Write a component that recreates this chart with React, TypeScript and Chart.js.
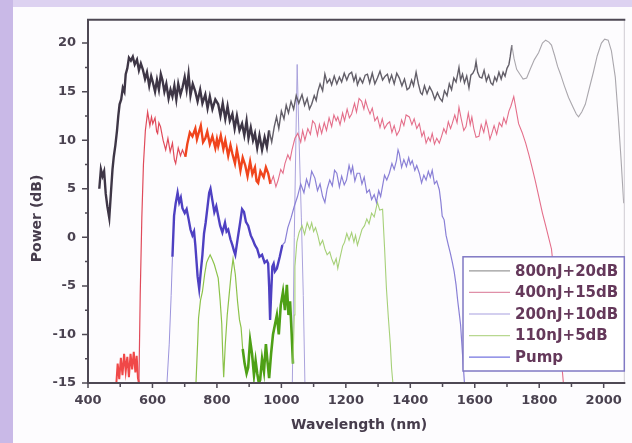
import React, { useEffect, useRef } from 'react';
import { Chart, registerables } from 'chart.js';

Chart.register(...registerables);

// ---- data (wavelength nm, power dB) ----
const seriesLabels = ['800nJ+20dB', '400nJ+15dB', '200nJ+10dB', '110nJ+5dB', 'Pump'];

const s800: [number, number][] = [
  [435, 5], [440, 7], [445, 6.3], [450, 6.8], [455, 4.5], [460, 3.2], [466, 2], [471, 4.5], [476, 7], [480, 8.3],
  [485, 9.5], [490, 11], [494, 12.5], [498, 13.7], [503, 14.2], [508, 15.4], [513, 15], [517, 16.8], [522, 17.4], [527, 18.5],
  [533, 18.2], [539, 18.6], [545, 17.8], [552, 18.3], [558, 17.2], [564, 17.9], [570, 17.3], [577, 16.3], [583, 17], [590, 15.6],
  [596, 16.6], [601, 16], [608, 15], [614, 16.2], [620, 15.2], [626, 16.8], [631, 16.2], [637, 15], [643, 15.8], [650, 14.3],
  [656, 15.2], [662, 14.5], [668, 15.6], [674, 14.2], [680, 15.8], [687, 14.7], [693, 15.4], [700, 16.5], [706, 15.2], [712, 16.8],
  [718, 14.6], [725, 15.8], [733, 15], [740, 14], [748, 15.2], [755, 13.8], [764, 14.7], [771, 13.3], [778, 14.5], [786, 13.2],
  [795, 14.2], [804, 13.7], [811, 12.5], [818, 13.8], [826, 12.2], [833, 13.5], [840, 12], [848, 12.7], [855, 11.2], [862, 12.5],
  [870, 11], [878, 11.7], [885, 10.5], [892, 12], [898, 10.2], [905, 11.3], [912, 10], [918, 10.7], [925, 9.2], [932, 10.5],
  [940, 9], [948, 10.3], [955, 9.3], [962, 11], [970, 9.8], [978, 11.4], [985, 12.4], [992, 11.2], [1000, 13], [1008, 12.2],
  [1015, 13.6], [1022, 12.8], [1030, 14], [1038, 13.2], [1046, 14.6], [1054, 13.8], [1064, 14.7], [1072, 13.6], [1080, 14.3], [1087, 13.2],
  [1094, 13.7], [1102, 14.6], [1108, 14.1], [1113, 15], [1120, 15.8], [1128, 15.1], [1135, 16.8], [1142, 15.9], [1150, 16.3], [1156, 15.7],
  [1164, 16.6], [1172, 15.8], [1180, 16.5], [1187, 16], [1195, 16.9], [1203, 16.2], [1210, 16.8], [1218, 17], [1225, 16.1], [1231, 16.7],
  [1236, 15.7], [1244, 16.4], [1252, 15.9], [1260, 16.7], [1267, 16.8], [1274, 15.9], [1282, 16.9], [1290, 15.8], [1298, 16.4], [1306, 17.1],
  [1314, 16.2], [1322, 16.6], [1329, 16.8], [1335, 16], [1342, 16.7], [1350, 15.8], [1358, 16.9], [1366, 16.4], [1374, 15.6], [1382, 16.3],
  [1390, 15.2], [1397, 15.4], [1404, 16.2], [1410, 15.6], [1418, 17], [1425, 15.8], [1432, 14.9], [1437, 14.7], [1444, 15.6], [1452, 14.8],
  [1460, 15.5], [1468, 15], [1476, 14.2], [1484, 14.9], [1492, 14.3], [1499, 14], [1506, 15.1], [1514, 14.6], [1521, 15.8], [1528, 15.2],
  [1535, 16.4], [1542, 16], [1547, 16.8], [1551, 17.5], [1556, 16.2], [1562, 16.8], [1568, 15.9], [1575, 16.6], [1582, 15.4], [1588, 16.7],
  [1594, 16.9], [1600, 17.3], [1604, 18.1], [1609, 17], [1615, 16.5], [1622, 16.4], [1629, 17.2], [1636, 16.1], [1643, 16.7], [1650, 15.9],
  [1656, 15.7], [1662, 16.5], [1668, 16.1], [1675, 17], [1682, 16.3], [1688, 17], [1694, 16.6], [1700, 17.4], [1706, 17.8], [1710, 18.6],
  [1715, 19.8], [1722, 18.4], [1730, 17.3], [1740, 16.8], [1750, 16.3], [1761, 16.4], [1772, 17.3], [1785, 18.3], [1798, 19], [1810, 20],
  [1820, 20.3], [1830, 20.1], [1838, 19.8], [1848, 18.7], [1857, 17.6], [1866, 16.8], [1878, 15.6], [1891, 14.4], [1905, 13.4], [1915, 12.7],
  [1922, 12.4], [1932, 12.9], [1943, 13.7], [1955, 15.3], [1968, 17], [1980, 18.7], [1993, 20], [2003, 20.4], [2014, 20.3], [2024, 19.2],
  [2036, 16.5], [2045, 12.5], [2054, 8], [2062, 3.5],
];

const s400: [number, number][] = [
  [488, -15], [492, -13], [497, -14.6], [502, -12.4], [507, -14.2], [512, -12], [517, -13.8], [522, -12.3], [527, -14.4], [532, -12],
  [537, -13.6], [542, -11.8], [547, -13.9], [551, -12.2], [555, -14.5], [558, -15], [562, -6], [567, 2], [572, 7.5], [578, 11],
  [585, 12.9], [592, 11.5], [597, 12.4], [601, 11.7], [608, 12.3], [613, 10.9], [616, 10.7], [620, 11.8], [625, 11.4], [633, 10],
  [641, 9], [648, 10.2], [655, 8.8], [662, 9.7], [668, 8], [672, 7.6], [680, 9.2], [687, 8.4], [693, 9], [702, 8.3],
  [708, 9.6], [716, 10.8], [724, 10.4], [733, 11.2], [738, 10.1], [743, 10.7], [750, 11.5], [757, 9.8], [764, 10.2], [770, 10.9],
  [778, 9.6], [786, 10.4], [795, 9.2], [800, 10.1], [804, 9.4], [812, 10.5], [820, 9.1], [826, 10], [835, 8.4], [842, 9.5],
  [848, 8.6], [856, 7.6], [862, 9], [866, 8.3], [873, 6.9], [880, 8.2], [888, 7.4], [895, 6.3], [903, 7.8], [910, 6.5],
  [918, 7.2], [923, 5.8], [928, 5.6], [935, 6.8], [945, 6.2], [952, 7.2], [959, 6.6], [966, 5.5], [975, 6.3], [983, 5.2],
  [990, 5.9], [998, 7], [1005, 6.6], [1011, 7.6], [1020, 8.5], [1027, 8], [1033, 9], [1042, 10.2], [1051, 10.7], [1060, 9.8],
  [1066, 11], [1073, 10], [1082, 11.2], [1090, 10.6], [1097, 12], [1104, 11.7], [1112, 10.5], [1118, 11.6], [1125, 10.7], [1133, 11.8],
  [1140, 11], [1148, 12.3], [1156, 11.4], [1163, 12.6], [1170, 12], [1175, 12.4], [1182, 11.6], [1190, 12.8], [1196, 12], [1204, 13.2],
  [1211, 12.3], [1218, 12.7], [1227, 13.8], [1233, 12.9], [1241, 14.3], [1249, 14], [1256, 13.2], [1261, 14.1], [1267, 13.4], [1275, 12.7],
  [1282, 13.3], [1290, 12], [1298, 12.4], [1306, 11.3], [1313, 12.2], [1320, 11.2], [1329, 11.7], [1336, 11.9], [1343, 10.8], [1350, 11.5],
  [1358, 10.5], [1366, 11], [1373, 12.1], [1380, 11.5], [1387, 12.6], [1397, 12.4], [1405, 11.6], [1412, 12.2], [1420, 11.2], [1428, 11.7],
  [1436, 10.4], [1442, 10.9], [1449, 9.7], [1456, 10.3], [1462, 9.9], [1468, 10.7], [1475, 9.6], [1482, 10.2], [1490, 9.7], [1497, 10.4],
  [1504, 11.2], [1511, 10.7], [1518, 11.9], [1525, 11.2], [1530, 11.7], [1538, 12.6], [1545, 11.8], [1551, 13.4], [1558, 12.2], [1566, 11],
  [1573, 11.4], [1580, 12.8], [1586, 11.6], [1591, 12.4], [1597, 11.2], [1604, 10.3], [1613, 10.4], [1620, 11.6], [1628, 10.8], [1635, 12],
  [1641, 11.2], [1647, 10.1], [1653, 10.7], [1660, 11.5], [1668, 10.6], [1676, 11.8], [1684, 11.4], [1690, 12.3], [1697, 11.7], [1706, 13],
  [1712, 13.5], [1721, 14.5], [1728, 13.2], [1736, 11.7], [1747, 10.8], [1758, 9.7], [1768, 8.5], [1777, 7.3], [1788, 5.8], [1798, 4.3],
  [1810, 2.5], [1820, 1.2], [1838, -1.2], [1850, -5], [1862, -10], [1875, -15],
];

const s200: [number, number][] = [
  [645, -15], [652, -11], [658, -6], [662, -2], [667, 2.2], [672, 3.5], [678, 4.6], [683, 3.6], [688, 4.1], [693, 3],
  [700, 2.5], [706, 2.9], [712, 1.9], [718, 0.8], [724, 0.2], [729, 0.6], [733, -0.8], [737, -2.6], [740, -4], [745, -5.3],
  [750, -3.5], [755, -1.8], [760, 0.4], [765, 1.5], [770, 2.9], [776, 4.6], [780, 5], [786, 3.8], [792, 2.6], [798, 3.2],
  [804, 2.2], [810, 1.2], [817, 0.5], [825, 1.5], [830, 0.6], [835, 0.8], [842, -0.2], [848, -0.8], [853, -1.4], [857, -1.8],
  [865, 0], [872, 1.5], [878, 2.9], [884, 2.6], [890, 1.6], [897, 1.2], [905, 0.2], [912, -0.3], [918, -0.8], [925, -1.2],
  [932, -2], [940, -1.8], [948, -2.6], [955, -2.4], [959, -2.7], [962, -5], [965, -8.5], [968, -6], [972, -3], [976, -2.7],
  [980, -3.5], [986, -3.2], [995, -2], [1003, -0.8], [1011, -0.5], [1020, 1], [1030, 2], [1040, 3.2], [1050, 4.2], [1060, 5.5],
  [1070, 4.6], [1078, 6], [1086, 5.2], [1094, 6.8], [1104, 6.1], [1112, 4.8], [1120, 5.5], [1128, 4.2], [1135, 3.6], [1142, 5],
  [1150, 5.9], [1158, 5.3], [1165, 6.9], [1172, 6.6], [1180, 5.2], [1187, 6.3], [1195, 5.4], [1202, 5.9], [1210, 7.4], [1216, 6.6],
  [1221, 7.3], [1228, 5.8], [1235, 6.6], [1243, 6.6], [1250, 5.5], [1257, 6.2], [1265, 4.6], [1273, 4.9], [1280, 3.9], [1288, 4.4],
  [1295, 3.6], [1302, 4.8], [1308, 4.2], [1314, 5.3], [1320, 6.4], [1327, 5.9], [1335, 6.6], [1343, 7.6], [1350, 7], [1357, 7.9],
  [1362, 9], [1366, 8.6], [1373, 7.2], [1380, 8], [1388, 7.3], [1395, 8.2], [1400, 7.5], [1406, 7.9], [1414, 6.9], [1420, 7.4],
  [1428, 6.6], [1435, 5.6], [1442, 6.4], [1449, 5.9], [1456, 6.8], [1462, 6.2], [1468, 6.9], [1475, 5.5], [1482, 5.8], [1490, 4.9],
  [1495, 3.6], [1499, 2.2], [1505, 1.8], [1511, 0.2], [1518, -0.8], [1524, -1.6], [1530, -2.5], [1536, -3.5], [1542, -4.9], [1547, -6.5],
  [1551, -7.6], [1556, -9], [1562, -12], [1568, -15],
];

const s110: [number, number][] = [
  [735, -15], [740, -11], [743, -8.3], [749, -6.5], [755, -5.6], [762, -3.8], [768, -2.6], [773, -2.2], [779, -1.8], [786, -2.3],
  [792, -2.8], [798, -3.5], [804, -4.2], [810, -6.5], [815, -8.9], [818, -12], [821, -14.4], [826, -11], [832, -8], [838, -5.9],
  [844, -3.8], [850, -2.2], [857, -3.8], [864, -6.6], [870, -8.5], [875, -9.3], [880, -11.5], [886, -13], [892, -14], [897, -13.4],
  [903, -10.6], [909, -12], [915, -14.2], [920, -12.7], [925, -14], [930, -15], [934, -14.7], [940, -12.5], [946, -13.8], [952, -11],
  [956, -12.5], [962, -14.5], [968, -12], [974, -10], [980, -9], [986, -8], [992, -10], [998, -7], [1005, -5.6], [1011, -7.5],
  [1017, -4.9], [1022, -8], [1027, -6.6], [1032, -10], [1036, -13], [1040, -8], [1042, -3], [1048, -0.5], [1055, 0.5], [1064, 1.2],
  [1072, 0.3], [1080, 1.5], [1088, 0.8], [1094, 1.5], [1100, 0.6], [1106, 1], [1113, 0.2], [1120, -0.8], [1128, -0.3], [1135, -1.2],
  [1142, -1.8], [1150, -1.5], [1156, -2.2], [1163, -2.8], [1170, -2.2], [1175, -3.2], [1182, -2.1], [1190, -0.9], [1196, -0.5], [1203, 0.4],
  [1210, -0.3], [1218, 0.5], [1225, -0.5], [1230, 0.2], [1236, -0.8], [1243, 0], [1250, 0.8], [1258, 1.2], [1265, 1.9], [1272, 1.4],
  [1280, 2.5], [1288, 2.1], [1298, 3.6], [1305, 2.8], [1314, 2.9], [1320, -1], [1326, -5.3], [1332, -8.3], [1338, -11], [1342, -13.5],
  [1346, -15],
];

const sPump: [number, number][] = [
  [1034, -15], [1040, 0], [1045, 10], [1049, 17.8], [1054, 11], [1062, 2], [1068, -6], [1073, -15],
];

const xMin = 400;
const xMax = 2064;
const yMin = -15;
const yMax = 22.4;

// ---- styles ----
const legendColors = ['#9a9a9a', '#e090a8', '#a8a0e0', '#b8d890', '#7474e0'];
const FONT = '"DejaVu Sans", "Liberation Sans", sans-serif';

type Sty = { c: string; w: number };
const style800 = (x: number): Sty => (x < 960 ? { c: '#3e3646', w: 2.4 } : x < 1712 ? { c: '#625e68', w: 1.4 } : { c: '#aaa7ad', w: 1.1 });
const style400 = (x: number): Sty =>
  x < 558 ? { c: '#f04848', w: 2 } : x < 700 ? { c: '#e04a5a', w: 1.2 } : x < 960 ? { c: '#f0441c', w: 2.4 } : { c: '#e46e8a', w: 1.1 };
const style200 = (x: number): Sty => (x < 660 ? { c: '#9c94dc', w: 1 } : x < 1000 ? { c: '#4e40c2', w: 2.4 } : { c: '#8a80d6', w: 1.2 });
const style110 = (x: number): Sty => (x < 880 ? { c: '#8cc24a', w: 1.2 } : x < 1036 ? { c: '#4ea016', w: 2.6 } : { c: '#a6d078', w: 1.1 });
const stylePump = (_x: number): Sty => ({ c: '#aaa2dc', w: 1 });

const toPts = (s: [number, number][]) => s.map(([x, y]) => ({ x, y }));

const mkDataset = (label: string, s: [number, number][], sty: (x: number) => Sty) => ({
  label,
  data: toPts(s),
  borderColor: sty(s[0][0]).c,
  borderWidth: 1.2,
  pointRadius: 0,
  tension: 0,
  fill: false,
  segment: {
    borderColor: (ctx: any) => sty(ctx.p0.parsed.x).c,
    borderWidth: (ctx: any) => sty(ctx.p0.parsed.x).w,
  },
});

const decorPlugin = {
  id: 'decor',
  afterDatasetsDraw(chart: any) {
    const { ctx, chartArea: a, scales } = chart;
    const xs = scales.x;
    const ys = scales.y;
    ctx.save();

    // frame
    ctx.lineCap = 'square';
    ctx.strokeStyle = '#cfcbd3';
    ctx.lineWidth = 1;
    ctx.beginPath();
    ctx.moveTo(a.right, a.top);
    ctx.lineTo(a.right, a.bottom);
    ctx.stroke();
    ctx.strokeStyle = '#4e4854';
    ctx.lineWidth = 2;
    ctx.beginPath();
    ctx.moveTo(a.right, a.top);
    ctx.lineTo(a.left, a.top);
    ctx.lineTo(a.left, a.bottom);
    ctx.lineTo(a.right, a.bottom);
    ctx.stroke();

    // tick marks
    ctx.lineWidth = 1.5;
    ctx.lineCap = 'butt';
    ctx.beginPath();
    xs.ticks.forEach((t: any) => {
      const px = xs.getPixelForValue(t.value);
      const len = t.value % 200 === 0 ? 5 : 4;
      ctx.moveTo(px, a.bottom);
      ctx.lineTo(px, a.bottom + len);
    });
    ys.ticks.forEach((t: any) => {
      const py = ys.getPixelForValue(t.value);
      const len = t.value % 5 === 0 ? 6 : 3;
      ctx.moveTo(a.left, py);
      ctx.lineTo(a.left - len, py);
    });
    ctx.stroke();

    // legend
    const lx = a.left + 375;
    const lr = a.right;
    const ly = a.top + 237;
    const lb = a.bottom - 12;
    ctx.fillStyle = '#ffffff';
    ctx.fillRect(lx, ly, lr - lx, lb - ly);
    ctx.strokeStyle = '#8078c4';
    ctx.lineWidth = 1.5;
    ctx.strokeRect(lx, ly, lr - lx, lb - ly);
    ctx.font = `bold 15px ${FONT}`;
    ctx.textBaseline = 'middle';
    ctx.textAlign = 'left';
    seriesLabels.forEach((lab, i) => {
      const cy = ly + 14 + i * 21.6;
      ctx.strokeStyle = legendColors[i];
      ctx.lineWidth = 1.2;
      ctx.beginPath();
      ctx.moveTo(lx + 6, cy);
      ctx.lineTo(lx + 47, cy);
      ctx.stroke();
      ctx.fillStyle = '#64385a';
      ctx.fillText(lab, lx + 52, cy + 1);
    });

    // axis titles
    ctx.fillStyle = '#463c4c';
    ctx.font = `bold 14px ${FONT}`;
    ctx.textAlign = 'center';
    ctx.textBaseline = 'middle';
    ctx.fillText('Wavelength (nm)', (a.left + a.right) / 2 + 3, a.bottom + 42);
    ctx.translate(37, (a.top + a.bottom) / 2 + 17);
    ctx.rotate(-Math.PI / 2);
    ctx.fillText('Power (dB)', 0, 0);

    ctx.restore();
  },
};

export default function App() {
  const ref = useRef<HTMLCanvasElement>(null);

  useEffect(() => {
    if (!ref.current) return;
    const chart = new Chart(ref.current, {
      type: 'line',
      data: {
        datasets: [
          mkDataset(seriesLabels[0], s800, style800),
          mkDataset(seriesLabels[1], s400, style400),
          mkDataset(seriesLabels[2], s200, style200),
          mkDataset(seriesLabels[3], s110, style110),
          mkDataset(seriesLabels[4], sPump, stylePump),
        ] as any,
      },
      options: {
        responsive: false,
        animation: false,
        events: [],
        layout: { padding: { left: 0, top: 14, right: 6, bottom: 0 } },
        plugins: { legend: { display: false }, tooltip: { enabled: false } },
        scales: {
          x: {
            type: 'linear',
            min: xMin,
            max: xMax,
            grid: { display: false, drawTicks: false },
            border: { display: false },
            ticks: {
              stepSize: 100,
              includeBounds: false,
              autoSkip: false,
              maxRotation: 0,
              padding: 10,
              color: '#4a4250',
              font: { family: FONT, size: 13, weight: 'bold' },
              callback: (v: any) => (Number(v) % 200 === 0 ? String(v) : ''),
            },
            afterFit: (s: any) => {
              s.height = 60;
            },
          },
          y: {
            type: 'linear',
            min: yMin,
            max: yMax,
            grid: { display: false, drawTicks: false },
            border: { display: false },
            ticks: {
              stepSize: 2.5,
              includeBounds: false,
              autoSkip: false,
              padding: 12,
              color: '#4a4250',
              font: { family: FONT, size: 13, weight: 'bold' },
              callback: (v: any) => (Number(v) % 5 === 0 ? String(v) : ''),
            },
            afterFit: (s: any) => {
              s.width = 88;
            },
          },
        },
      } as any,
      plugins: [decorPlugin],
    });
    return () => chart.destroy();
  }, []);

  return (
    <div style={{ position: 'fixed', left: 0, top: 0, width: 632, height: 443, background: '#c9b9e7', overflow: 'hidden' }}>
      <div style={{ position: 'absolute', left: 13, top: 0, right: 0, height: 7, background: '#ddd2f1' }} />
      <div style={{ position: 'absolute', left: 13, top: 7, right: 0, bottom: 0, background: '#fdfcfe' }} />
      <canvas ref={ref} width={632} height={443} style={{ position: 'absolute', left: 0, top: 0, width: 632, height: 443 }} />
    </div>
  );
}
